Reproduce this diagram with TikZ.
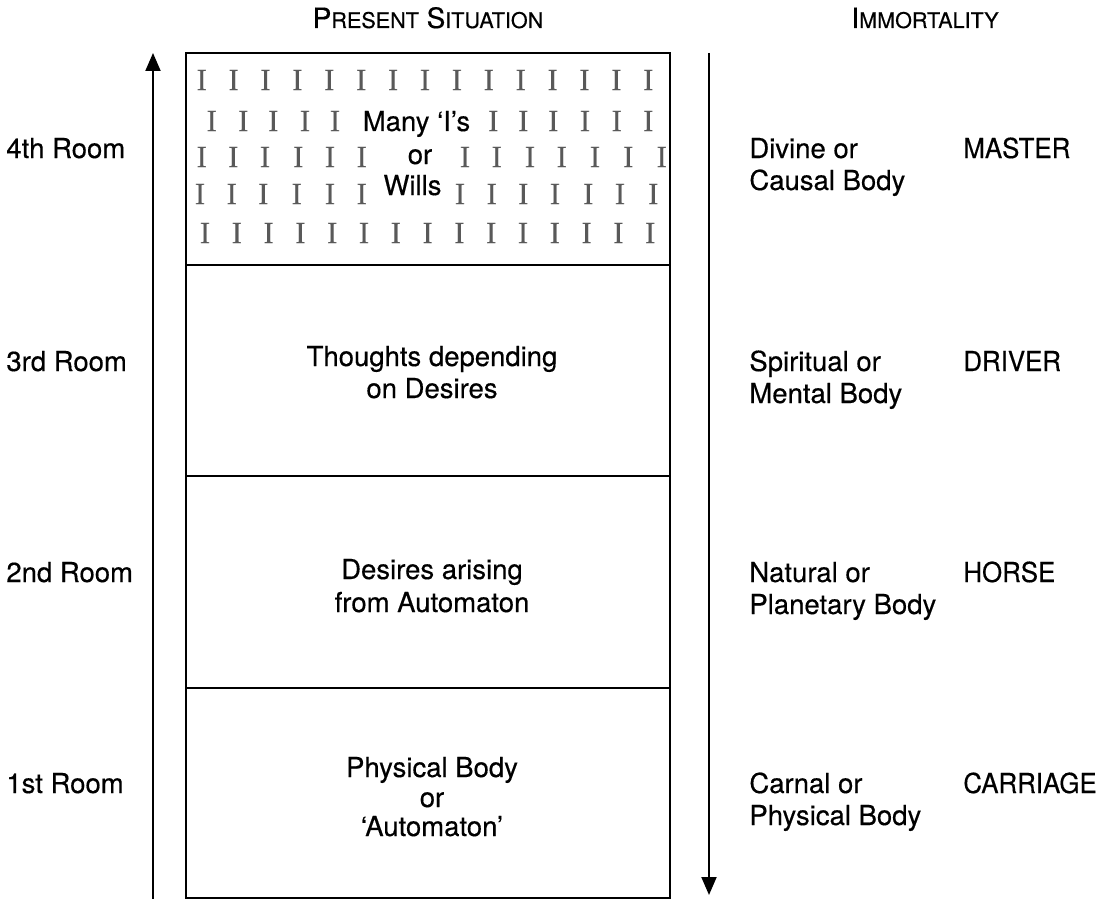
\documentclass[tikz,border=0pt]{standalone}
\usepackage{fontspec}
\setmainfont{TeX Gyre Heros}[FakeBold=0.4]
\newfontfamily\iserif{Liberation Serif}[FakeBold=0.3]
\usetikzlibrary{arrows.meta}
\newcommand{\hdrbig}[1]{{\fontsize{14}{16}\selectfont #1}}
\newcommand{\hdrsmall}[1]{{\fontsize{10.8}{12}\selectfont #1}}
\begin{document}
\begin{tikzpicture}[x=0.5pt,y=-0.5pt,
  txt/.style={inner sep=0pt,font=\fontsize{13.75}{16}\selectfont,text=black},
  ctr/.style={txt,anchor=base},
  lbl/.style={txt,anchor=base west},
  capslbl/.style={lbl,xscale=0.94},
  ichar/.style={inner sep=0pt,anchor=center,font=\iserif\fontsize{15.5}{17}\selectfont,text=black!65},
  boxline/.style={line width=1.3pt},
  arrowline/.style={line width=1pt,-{Triangle[length=9pt,width=7.5pt]}},
]
\useasboundingbox (0,0) rectangle (1097,899);

% headers
\node[ctr] (hpresent) at (428,28) {\hdrbig{P}\hdrsmall{RESENT} \hdrbig{S}\hdrsmall{ITUATION}};
\node[ctr] (himmortal) at (925,28) {\hdrbig{I}\hdrsmall{MMORTALITY}};

% rooms (box)
\draw[boxline] (186,53) rectangle (670,898);
\draw[boxline] (186,265) -- (670,265);
\draw[boxline] (186,476) -- (670,476);
\draw[boxline] (186,688) -- (670,688);

% arrows
\coordinate (lbot) at (153,899);
\coordinate (ltop) at (153,53);
\coordinate (rtop) at (709,53);
\coordinate (rbot) at (709,895);
\draw[arrowline] (lbot) -- (ltop);
\draw[arrowline] (rtop) -- (rbot);

% many I's
\foreach \k in {0,...,14} \node[ichar] (ia\k) at ({201.7+31.9*\k},80) {I};
\foreach \x [count=\k] in {211.7,243.3,273.3,305,335,493.3,523.3,553.3,585,616.7,648.3}
  \node[ichar] (ib\k) at (\x,121) {I};
\foreach \x [count=\k] in {201.7,233.3,265,298.3,330,361.7,465,496.7,530,561.7,595,628.3,661.7}
  \node[ichar] (ic\k) at (\x,157) {I};
\foreach \x [count=\k] in {200,231.7,263.3,296.7,330,361.7,460,491.7,523.3,555,588.3,620,653.3}
  \node[ichar] (id\k) at (\x,194) {I};
\foreach \k in {0,...,14} \node[ichar] (ie\k) at ({205+31.8*\k},233) {I};

% room texts
\node[ctr] (r4a) at (416.5,131) {Many ‘I’s};
\node[ctr] (r4b) at (420,164) {or};
\node[ctr] (r4c) at (412.5,195) {Wills};

\node[ctr] (r3a) at (432,366) {Thoughts depending};
\node[ctr] (r3b) at (432,398) {on Desires};

\node[ctr] (r2a) at (432,579) {Desires arising};
\node[ctr] (r2b) at (432,612) {from Automaton};

\node[ctr] (r1a) at (432,777) {Physical Body};
\node[ctr] (r1b) at (432,807) {or};
\node[ctr] (r1c) at (432,836) {‘Automaton’};

% left labels
\node[lbl] (l4) at (6,158) {4th Room};
\node[lbl] (l3) at (6,371) {3rd Room};
\node[lbl] (l2) at (6,582) {2nd Room};
\node[lbl] (l1) at (6,793) {1st Room};

% right labels
\node[lbl] (b4a) at (749,158) {Divine or};
\node[lbl] (b4b) at (749,190) {Causal Body};
\node[capslbl] (c4) at (963,158) {MASTER};

\node[lbl] (b3a) at (749,371) {Spiritual or};
\node[lbl] (b3b) at (749,403) {Mental Body};
\node[capslbl] (c3) at (963,371) {DRIVER};

\node[lbl] (b2a) at (749,582) {Natural or};
\node[lbl] (b2b) at (749,614) {Planetary Body};
\node[capslbl] (c2) at (963,582) {HORSE};

\node[lbl] (b1a) at (749,793) {Carnal or};
\node[lbl] (b1b) at (749,825) {Physical Body};
\node[capslbl] (c1) at (963,793) {CARRIAGE};
\end{tikzpicture}
\end{document}
